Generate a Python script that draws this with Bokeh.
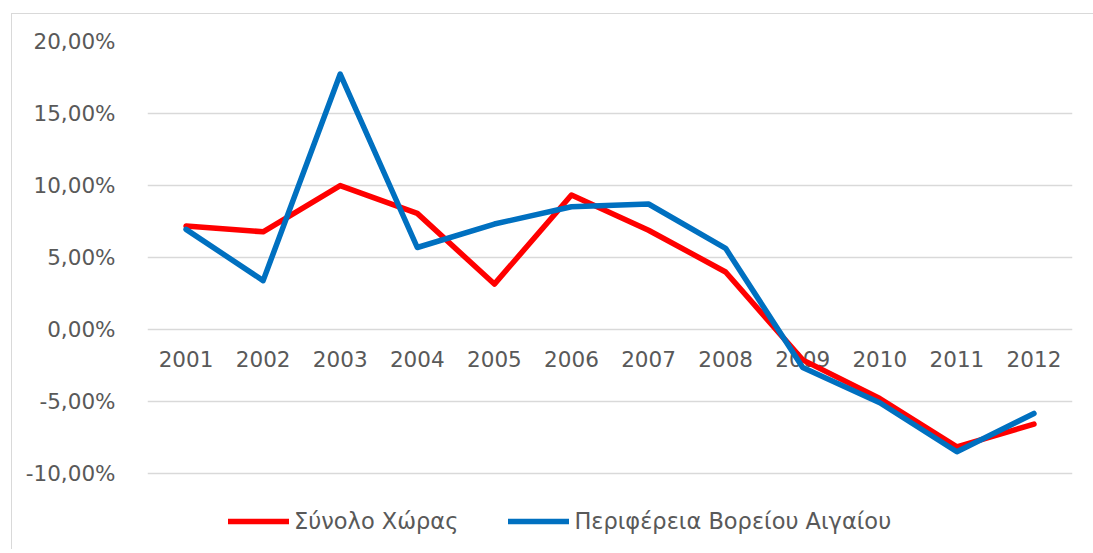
from bokeh.plotting import figure
from bokeh.models import FixedTicker, Legend, LegendItem, ColumnDataSource
from bokeh.core.properties import value
from bokeh.embed import file_html
from bokeh.resources import INLINE

years = ["2001", "2002", "2003", "2004", "2005", "2006",
         "2007", "2008", "2009", "2010", "2011", "2012"]
total = [7.19, 6.79, 10.00, 8.07, 3.16, 9.34, 6.90, 4.00, -2.10, -4.78, -8.14, -6.56]
north_aegean = [6.96, 3.40, 17.74, 5.70, 7.33, 8.53, 8.72, 5.64, -2.63, -5.08, -8.48, -5.82]
y_ticks = [-10, -5, 0, 5, 10, 15, 20]
series_names = ["Σύνολο Χώρας", "Περιφέρεια Βορείου Αιγαίου"]

FONT = "DejaVu Sans"
GRAY = "#595959"

p = figure(x_range=years, y_range=(-14.5, 20), width=1082, height=536,
           output_backend="svg", toolbar_location=None,
           min_border_left=135, min_border_right=22, min_border_top=27, min_border_bottom=12,
           margin=(13, 0, 0, 11),
           styles={"border-top": "1px solid #d9d9d9", "border-left": "1px solid #d9d9d9"})
p.outline_line_color = None
p.xaxis.visible = False
p.xgrid.grid_line_color = None
p.ygrid.grid_line_color = "#d9d9d9"
p.ygrid.grid_line_width = 1.5
p.yaxis.ticker = FixedTicker(ticks=y_ticks)
p.yaxis.major_label_overrides = {t: f"{t:.2f}".replace(".", ",") + "%" for t in y_ticks}
p.yaxis.axis_line_color = None
p.yaxis.major_tick_line_color = None
p.yaxis.minor_tick_line_color = None
p.yaxis.major_label_standoff = 26
p.yaxis.major_label_text_font = FONT
p.yaxis.major_label_text_font_size = "21.5px"
p.yaxis.major_label_text_color = GRAY

src = ColumnDataSource(dict(x=years, y=[0] * len(years), t=years))
p.text(x="x", y="y", text="t", source=src, text_align="center", text_baseline="middle",
       y_offset=29, text_font=value(FONT), text_font_size="21.5px", text_color=GRAY)

r1 = p.line(years, total, line_color="#FF0000", line_width=5.5, line_join="round", line_cap="round")
r2 = p.line(years, north_aegean, line_color="#0070C0", line_width=5.5, line_join="round", line_cap="round")

legend = Legend(items=[LegendItem(label=series_names[0], renderers=[r1]),
                       LegendItem(label=series_names[1], renderers=[r2])],
                orientation="horizontal", location=(81, 4),
                padding=0, margin=0, spacing=50, label_standoff=5,
                glyph_width=61, glyph_height=20, label_height=20,
                border_line_color=None, background_fill_alpha=0,
                label_text_font=FONT, label_text_font_size="22.5px", label_text_color=GRAY)
p.add_layout(legend, "center")

open("out.html", "w").write(file_html(p, INLINE))
